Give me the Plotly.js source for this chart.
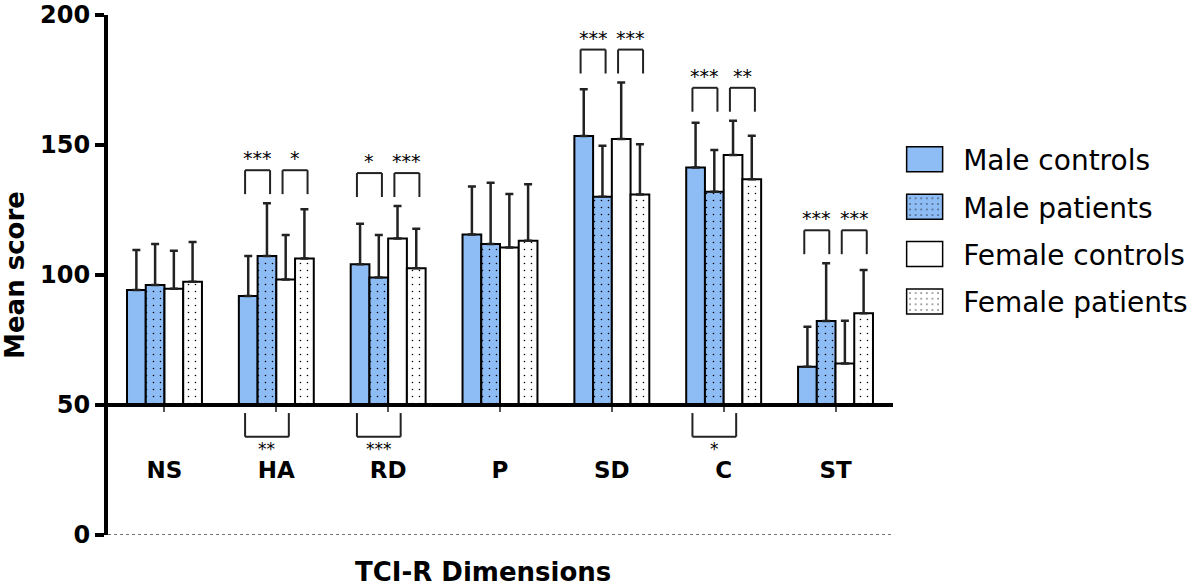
<!DOCTYPE html>
<html>
<head>
<meta charset="utf-8">
<script src="https://cdn.plot.ly/plotly-3.0.1.min.js"></script>
<style>html,body{margin:0;padding:0;background:#fff;}#chart{width:1200px;height:586px;}</style>
</head>
<body>
<div id="chart"></div>
<script>
// ---- data ----
const categories = ['NS', 'HA', 'RD', 'P', 'SD', 'C', 'ST'];
const seriesNames = ['Male controls', 'Male patients', 'Female controls', 'Female patients'];
const maleControls     = [94.2, 91.9, 104.1, 115.6, 153.5, 141.3, 64.7];
const maleControlsSD   = [15.4, 15.4, 15.6, 18.4, 17.9, 17.3, 15.4];
const malePatients     = [96.2, 107.3, 99.0, 111.9, 130.1, 132.0, 82.3];
const malePatientsSD   = [15.7, 20.3, 16.4, 23.6, 19.6, 16.1, 22.2];
const femaleControls   = [94.7, 98.3, 114.0, 110.6, 152.3, 146.2, 66.0];
const femaleControlsSD = [14.6, 17.1, 12.5, 20.6, 21.7, 13.1, 16.4];
const femalePatients   = [97.4, 106.3, 102.6, 113.2, 131.0, 136.8, 85.3];
const femalePatientsSD = [15.3, 19.0, 15.2, 21.7, 19.3, 16.8, 16.6];
// significance: male controls vs male patients, female controls vs female patients, male vs female controls
const sigMale     = ['', '***', '*', '', '***', '***', '***'];
const sigFemale   = ['', '*', '***', '', '***', '**', '***'];
const sigControls = ['', '**', '***', '', '', '*', ''];
const yTicks = [0, 50, 100, 150, 200];
const baseLine = 50;

// ---- style ----
const BLUE = '#8EBCF4';
const BOLD = {family: 'DejaVu Sans, Arial, sans-serif', weight: 'bold', color: '#000'};
const means = [maleControls, malePatients, femaleControls, femalePatients];
const sds = [maleControlsSD, malePatientsSD, femaleControlsSD, femalePatientsSD];
const fills = [BLUE, BLUE, '#ffffff', '#ffffff'];
const dotted = [false, true, false, true];

const traces = means.map((m, k) => ({
  type: 'bar',
  name: seriesNames[k],
  legendgroup: 'g' + k,
  x: categories,
  y: m.map(v => v - baseLine),
  base: baseLine,
  marker: {
    color: fills[k],
    line: {color: '#000', width: 2},
    pattern: dotted[k] ? {shape: '.', bgcolor: fills[k], fgcolor: '#000', fgopacity: 1, size: 7, solidity: 0.04, fillmode: 'replace'} : {shape: ''}
  },
  error_y: {type: 'data', symmetric: false, array: sds[k], arrayminus: m.map(() => 0), color: '#222', thickness: 2.5, width: 4},
  hoverinfo: 'skip'
}));

// bar geometry (category units)
const BARGAP = 0.33;
const groupW = 1 - BARGAP;
const off = [-3, -1, 1, 3].map(f => f * groupW / 8);
const EXT = 0.028;
const LINE = {color: '#222', width: 2};
const STARFONT = {family: 'DejaVu Sans, Arial', size: 19, color: '#000'};

const shapes = [
  // dotted zero line
  {type: 'line', xref: 'paper', x0: 0, x1: 1, yref: 'y', y0: 0, y1: 0, line: {color: '#444', width: 1.5, dash: 'dot'}},
];
const annotations = [];

function bracketUp(i, a, b, label, yb) {
  const x0 = i + off[a] - EXT, x1 = i + off[b] + EXT, yt = yb + 9.2;
  shapes.push({type: 'line', xref: 'x', yref: 'y', x0: x0, x1: x0, y0: yb, y1: yt, line: LINE});
  shapes.push({type: 'line', xref: 'x', yref: 'y', x0: x0, x1: x1, y0: yt, y1: yt, line: LINE});
  shapes.push({type: 'line', xref: 'x', yref: 'y', x0: x1, x1: x1, y0: yt, y1: yb, line: LINE});
  annotations.push({x: (x0 + x1) / 2, y: yt, xref: 'x', yref: 'y', text: label, showarrow: false, yanchor: 'bottom', yshift: -1,
    font: STARFONT});
}
function bracketDown(i, a, b, label) {
  const x0 = i + off[a] - EXT, x1 = i + off[b] + EXT, yt = 46.9, yb = 37.8;
  shapes.push({type: 'line', xref: 'x', yref: 'y', x0: x0, x1: x0, y0: yt, y1: yb, line: LINE});
  shapes.push({type: 'line', xref: 'x', yref: 'y', x0: x0, x1: x1, y0: yb, y1: yb, line: LINE});
  shapes.push({type: 'line', xref: 'x', yref: 'y', x0: x1, x1: x1, y0: yb, y1: yt, line: LINE});
  annotations.push({x: (x0 + x1) / 2, y: yb - 4.6, xref: 'x', yref: 'y', text: label, showarrow: false, yanchor: 'middle',
    font: {family: 'DejaVu Sans, Arial', size: 17, color: '#000'}});
}

categories.forEach((c, i) => {
  const tops = means.map((m, k) => m[i] + sds[k][i]);
  const yb = Math.max(...tops) + 3.5;
  if (sigMale[i]) bracketUp(i, 0, 1, sigMale[i], yb);
  if (sigFemale[i]) bracketUp(i, 2, 3, sigFemale[i], yb);
  if (sigControls[i]) bracketDown(i, 0, 2, sigControls[i]);
});

annotations.push({xref: 'paper', yref: 'paper', x: 0.478, y: -0.071, yanchor: 'middle', xanchor: 'center', showarrow: false,
  text: 'TCI-R Dimensions', font: Object.assign({size: 26}, BOLD)});

const layout = {
  width: 1200, height: 586,
  margin: {l: 108, r: 307, t: 15, b: 51, autoexpand: false},
  paper_bgcolor: '#fff', plot_bgcolor: '#fff',
  barmode: 'group', bargap: BARGAP, bargroupgap: 0,
  showlegend: true,
  legend: {x: 1.004, xanchor: 'left', y: 0.77, yanchor: 'top', font: {family: 'DejaVu Sans, Arial', size: 28, color: '#000'},
    itemwidth: 57, traceorder: 'grouped', tracegroupgap: 8, bgcolor: 'rgba(0,0,0,0)'},
  xaxis: {
    type: 'category', range: [-0.505, 6.514], anchor: 'free', position: baseLine / 200,
    showline: true, linecolor: '#000', linewidth: 4, showgrid: false, zeroline: false,
    ticks: 'outside', ticklen: 5, tickwidth: 2, tickcolor: '#555',
    tickfont: Object.assign({size: 23}, BOLD), ticklabelstandoff: 38, fixedrange: true
  },
  yaxis: {
    range: [0, 200], tickvals: yTicks, ticktext: yTicks.map(String),
    showline: true, linecolor: '#000', linewidth: 4, showgrid: false, zeroline: false,
    ticks: 'outside', ticklen: 9, tickwidth: 4, tickcolor: '#000',
    tickfont: Object.assign({size: 24}, BOLD),
    title: {text: 'Mean score', font: Object.assign({size: 26}, BOLD), standoff: 10}
  },
  shapes: shapes, annotations: annotations
};

Plotly.newPlot('chart', traces, layout, {displayModeBar: false, staticPlot: true}).then(gd => {
  // enlarge legend swatches
  gd.querySelectorAll('g.legend g.legendpoints path').forEach(p => {
    p.setAttribute('d', 'M13,12.5H-23V-12.5H13Z');
    p.style.strokeWidth = '1.5px';
  });
});
</script>
</body>
</html>
